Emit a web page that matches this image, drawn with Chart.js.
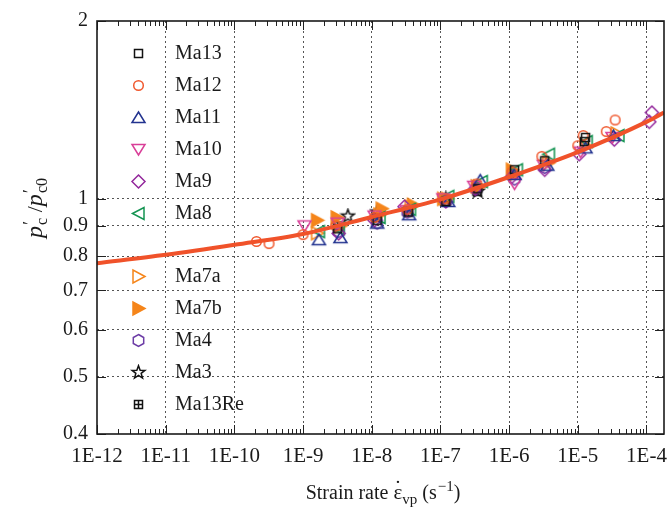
<!DOCTYPE html>
<html>
<head>
<meta charset="utf-8">
<script src="https://cdn.jsdelivr.net/npm/chart.js@4.4.1/dist/chart.umd.min.js"></script>
<style>
  html, body { margin: 0; padding: 0; background: #fff; }
</style>
</head>
<body>
<canvas id="chart" width="670" height="510"></canvas>
<script>
// ------------------------------
// data: strain rate (1/s) and p'c/p'c0 per test
// ------------------------------
const rateMa13 = [3.2e-9, 1.2e-8, 3.4e-8, 1.2e-7, 3.5e-7, 1.2e-6, 3.3e-6, 1.3e-5, 1.25e-5];
const ratioMa13 = [0.89, 0.92, 0.95, 0.99, 1.04, 1.12, 1.16, 1.27, 1.25];

const rateMa12 = [2.1e-10, 3.2e-10, 1.0e-9, 3.0e-9, 1.1e-8, 3.3e-8, 1.2e-7, 3.4e-7, 1.1e-6, 3.0e-6, 1.2e-5, 1.0e-5, 2.6e-5, 3.5e-5];
const ratioMa12 = [0.847, 0.84, 0.87, 0.90, 0.93, 0.96, 1.00, 1.06, 1.11, 1.18, 1.28, 1.23, 1.30, 1.36];

const rateMa11 = [1.7e-9, 3.5e-9, 1.2e-8, 3.5e-8, 1.3e-7, 3.8e-7, 1.2e-6, 3.6e-6, 1.3e-5, 3.3e-5];
const ratioMa11 = [0.853, 0.86, 0.91, 0.94, 0.99, 1.076, 1.10, 1.14, 1.22, 1.28];

const rateMa10 = [1.05e-9, 3.2e-9, 1.1e-8, 3.2e-8, 1.1e-7, 3.1e-7, 1.2e-6, 3.2e-6, 1.1e-5, 3.2e-5];
const ratioMa10 = [0.90, 0.91, 0.935, 0.955, 1.0, 1.05, 1.06, 1.14, 1.20, 1.27];

const rateMa9 = [3.3e-9, 1.1e-8, 3.0e-8, 1.2e-7, 3.2e-7, 1.1e-6, 3.3e-6, 1.05e-5, 3.4e-5, 1.2e-4, 1.1e-4];
const ratioMa9 = [0.874, 0.92, 0.97, 0.99, 1.04, 1.09, 1.12, 1.19, 1.26, 1.40, 1.35];

const rateMa8 = [1.7e-9, 3.3e-9, 1.3e-8, 3.6e-8, 1.3e-7, 4.0e-7, 1.3e-6, 3.8e-6, 1.35e-5, 3.9e-5];
const ratioMa8 = [0.88, 0.89, 0.93, 0.96, 1.01, 1.07, 1.12, 1.19, 1.25, 1.28];

const rateMa7a = [1.6e-9, 3.5e-9, 1.3e-8, 3.7e-8, 1.25e-7, 3.7e-7, 1.2e-6, 3.7e-6, 1.3e-5, 3.7e-5];
const ratioMa7a = [0.875, 0.90, 0.94, 0.97, 1.0, 1.05, 1.10, 1.15, 1.23, 1.29];

const rateMa7b = [1.6e-9, 3.1e-9, 1.4e-8, 4.0e-8, 1.1e-7, 3.4e-7, 1.1e-6];
const ratioMa7b = [0.92, 0.93, 0.962, 0.977, 1.0, 1.05, 1.12];

const rateMa4 = [3.3e-9, 1.2e-8, 3.3e-8, 1.2e-7, 3.3e-7, 1.2e-6, 3.3e-6];
const ratioMa4 = [0.88, 0.91, 0.95, 0.99, 1.04, 1.08, 1.13];

const rateMa3 = [4.5e-9, 1.2e-8, 3.5e-8, 1.2e-7, 3.5e-7];
const ratioMa3 = [0.935, 0.95, 0.96, 1.0, 1.03];

const rateMa13Re = [3.2e-9, 1.15e-8, 3.4e-8, 1.15e-7, 3.4e-7, 1.15e-6];
const ratioMa13Re = [0.90, 0.93, 0.95, 0.99, 1.03, 1.10];

// model curve
const fitRate = [1e-12, 1e-11, 1e-10, 1e-9, 1e-8, 1e-7, 1e-6, 1e-5, 1e-4, 1.8e-4];
const fitRatio = [0.778, 0.804, 0.836, 0.872, 0.932, 0.998, 1.089, 1.20, 1.35, 1.40];

// axis ticks
const xTicks = [1e-12, 1e-11, 1e-10, 1e-9, 1e-8, 1e-7, 1e-6, 1e-5, 1e-4];
const yTicks = [0.4, 0.5, 0.6, 0.7, 0.8, 0.9, 1, 2];

const SERIF = "'Liberation Serif', 'DejaVu Serif', serif";

// ------------------------------
// marker images
// ------------------------------
function makeMarker(kind, color, filled) {
    const s = 17, c = 8.5;
    const cv = document.createElement("canvas");
    cv.width = s; cv.height = s;
    const g = cv.getContext("2d");
    g.strokeStyle = color;
    g.fillStyle = color;
    g.lineWidth = 1.5;
    g.beginPath();
    if (kind === "square") {
        g.rect(c - 4, c - 4, 8, 8);
    } else if (kind === "circle") {
        g.arc(c, c, 4.8, 0, Math.PI * 2);
    } else if (kind === "up") {
        g.moveTo(c, c - 5.5); g.lineTo(c + 6.5, c + 5); g.lineTo(c - 6.5, c + 5); g.closePath();
    } else if (kind === "down") {
        g.moveTo(c, c + 5.5); g.lineTo(c + 6.5, c - 5); g.lineTo(c - 6.5, c - 5); g.closePath();
    } else if (kind === "left") {
        g.moveTo(c - 6, c); g.lineTo(c + 5.5, c - 6); g.lineTo(c + 5.5, c + 6); g.closePath();
    } else if (kind === "right") {
        g.moveTo(c + 6.5, c); g.lineTo(c - 5.5, c - 6.5); g.lineTo(c - 5.5, c + 6.5); g.closePath();
    } else if (kind === "diamond") {
        g.moveTo(c, c - 6.5); g.lineTo(c + 6.5, c); g.lineTo(c, c + 6.5); g.lineTo(c - 6.5, c); g.closePath();
    } else if (kind === "hexagon") {
        for (let k = 0; k < 6; k++) {
            const a = -Math.PI / 2 + k * Math.PI / 3;
            const px = c + 6 * Math.cos(a), py = c + 6 * Math.sin(a);
            if (k === 0) g.moveTo(px, py); else g.lineTo(px, py);
        }
        g.closePath();
    } else if (kind === "star") {
        for (let k = 0; k < 10; k++) {
            const a = -Math.PI / 2 + k * Math.PI / 5;
            const r = k % 2 === 0 ? 6.8 : 2.8;
            const px = c + r * Math.cos(a), py = c + r * Math.sin(a);
            if (k === 0) g.moveTo(px, py); else g.lineTo(px, py);
        }
        g.closePath();
    } else if (kind === "boxplus") {
        g.rect(c - 4, c - 4, 8, 8);
        g.moveTo(c, c - 4); g.lineTo(c, c + 4);
        g.moveTo(c - 4, c); g.lineTo(c + 4, c);
    }
    if (filled) g.fill();
    g.stroke();
    return cv;
}

const series = [
    { label: "Ma13", x: rateMa13, y: ratioMa13, marker: makeMarker("square", "#111") },
    { label: "Ma12", x: rateMa12, y: ratioMa12, marker: makeMarker("circle", "#f0582e") },
    { label: "Ma11", x: rateMa11, y: ratioMa11, marker: makeMarker("up", "#22338f") },
    { label: "Ma10", x: rateMa10, y: ratioMa10, marker: makeMarker("down", "#d93f98") },
    { label: "Ma9", x: rateMa9, y: ratioMa9, marker: makeMarker("diamond", "#93289c") },
    { label: "Ma8", x: rateMa8, y: ratioMa8, marker: makeMarker("left", "#149452") },
    { label: "Ma7a", x: rateMa7a, y: ratioMa7a, marker: makeMarker("right", "#f5851a") },
    { label: "Ma7b", x: rateMa7b, y: ratioMa7b, marker: makeMarker("right", "#f5851a", true) },
    { label: "Ma4", x: rateMa4, y: ratioMa4, marker: makeMarker("hexagon", "#6c3ca6") },
    { label: "Ma3", x: rateMa3, y: ratioMa3, marker: makeMarker("star", "#111") },
    { label: "Ma13Re", x: rateMa13Re, y: ratioMa13Re, marker: makeMarker("boxplus", "#111") }
];

const zip = (xs, ys) => xs.map((v, i) => ({ x: v, y: ys[i] }));

const datasets = [{
    label: "fit",
    data: zip(fitRate, fitRatio),
    showLine: true,
    borderColor: "#f0522a",
    borderWidth: 4,
    pointRadius: 0,
    cubicInterpolationMode: "monotone",
    order: 0
}].concat(series.map(s => ({
    label: s.label,
    data: zip(s.x, s.y),
    showLine: false,
    pointStyle: s.marker,
    pointRadius: 5,
    order: 1
})));

// ------------------------------
// rich text helper (italic / sub / sup)
// ------------------------------
function drawRich(ctx, parts, cx, cy) {
    let total = 0;
    parts.forEach(p => {
        ctx.font = `${p.it ? "italic " : ""}${p.size}px ${SERIF}`;
        p.w = ctx.measureText(p.t).width;
        if (!p.over) total += p.w + (p.dx || 0);
    });
    let x = cx - total / 2;
    let prev = null;
    parts.forEach(p => {
        ctx.font = `${p.it ? "italic " : ""}${p.size}px ${SERIF}`;
        if (p.over && prev) {
            ctx.fillText(p.t, x - prev.w / 2 - p.w / 2 + (p.dx || 0), cy + (p.dy || 0));
            return;
        }
        x += p.dx || 0;
        ctx.fillText(p.t, x, cy + (p.dy || 0));
        x += p.w;
        prev = p;
    });
}

// ------------------------------
// frame, inward ticks, legend, axis titles
// ------------------------------
const decorPlugin = {
    id: "decor",
    afterDraw(chart) {
        const ctx = chart.ctx;
        const a = chart.chartArea;
        const xs = chart.scales.x, ys = chart.scales.y;
        ctx.save();

        // ticks
        ctx.strokeStyle = "#222";
        ctx.lineWidth = 1;
        ctx.beginPath();
        for (let d = -12; d <= -4; d++) {
            for (let m = 1; m <= 9; m++) {
                const v = m * Math.pow(10, d);
                if (v < xs.min || v > xs.max) continue;
                const px = Math.round(xs.getPixelForValue(v)) + 0.5;
                const len = m === 1 ? 9 : 5;
                ctx.moveTo(px, a.bottom); ctx.lineTo(px, a.bottom - len);
                ctx.moveTo(px, a.top); ctx.lineTo(px, a.top + len);
            }
        }
        yTicks.forEach(v => {
            const py = Math.round(ys.getPixelForValue(v)) + 0.5;
            ctx.moveTo(a.left, py); ctx.lineTo(a.left + 9, py);
            ctx.moveTo(a.right, py); ctx.lineTo(a.right - 9, py);
        });
        ctx.stroke();

        // frame
        ctx.lineWidth = 1.6;
        ctx.strokeStyle = "#1a1a1a";
        ctx.strokeRect(a.left, a.top, a.right - a.left, a.bottom - a.top);

        // legend (blank slot after Ma8)
        ctx.fillStyle = "#1a1a1a";
        ctx.textBaseline = "middle";
        ctx.textAlign = "left";
        ctx.font = `20px ${SERIF}`;
        series.forEach((s, i) => {
            const slot = i < 6 ? i : i + 1;
            const ly = Math.round(a.top + 32 + slot * 31.9);
            ctx.drawImage(s.marker, Math.round(a.left + 41) - 8, ly - 8);
            ctx.fillText(s.label, a.left + 78, ly + 1);
        });

        // x title
        ctx.textBaseline = "alphabetic";
        drawRich(ctx, [
            { t: "Strain rate ", size: 20 },
            { t: "ε", size: 21 },
            { t: "˙", size: 22, over: true, dy: -4 },
            { t: "vp", size: 15, dy: 5 },
            { t: " (s", size: 20 },
            { t: "−1", size: 15, dy: -8, dx: 1 },
            { t: ")", size: 20 }
        ], 383, 499);

        // y title
        ctx.translate(42, 208);
        ctx.rotate(-Math.PI / 2);
        drawRich(ctx, [
            { t: "p", size: 24, it: true },
            { t: "′", size: 19, dy: -6, dx: 1 },
            { t: "c", size: 16, dy: 5, dx: -4 },
            { t: " /", size: 22 },
            { t: "p", size: 24, it: true },
            { t: "′", size: 19, dy: -6, dx: 1 },
            { t: "c0", size: 16, dy: 5, dx: -4 }
        ], 0, 0);

        ctx.restore();
    }
};

const gridColor = (edgeVals) => c => {
    const v = c.tick && c.tick.value;
    return edgeVals.includes(v) ? "rgba(0,0,0,0)" : "#555";
};

new Chart(document.getElementById("chart"), {
    type: "scatter",
    data: { datasets },
    options: {
        responsive: false,
        animation: false,
        events: [],
        layout: { padding: { left: 0, top: 18, right: 3, bottom: 0 } },
        plugins: { legend: { display: false }, tooltip: { enabled: false } },
        scales: {
            x: {
                type: "logarithmic",
                min: 1e-12,
                max: 1.8e-4,
                afterBuildTicks: s => { s.ticks = xTicks.map(v => ({ value: v })); },
                afterFit: s => { s.height = 76; s.paddingLeft = 0; s.paddingRight = 0; },
                grid: { color: gridColor([1e-12]), lineWidth: 1, drawTicks: false },
                border: { display: false, dash: [2, 3] },
                ticks: {
                    padding: 10,
                    autoSkip: false,
                    maxRotation: 0,
                    color: "#1a1a1a",
                    font: { family: SERIF, size: 21 },
                    callback: v => "1E" + Math.round(Math.log10(v))
                }
            },
            y: {
                type: "logarithmic",
                min: 0.4,
                max: 2,
                afterBuildTicks: s => { s.ticks = yTicks.map(v => ({ value: v })); },
                afterFit: s => { s.width = 97; },
                grid: { color: gridColor([0.4, 2]), lineWidth: 1, drawTicks: false },
                border: { display: false, dash: [2, 3] },
                ticks: {
                    padding: 9,
                    autoSkip: false,
                    color: "#1a1a1a",
                    font: { family: SERIF, size: 20 },
                    callback: v => String(v)
                }
            }
        }
    },
    plugins: [decorPlugin]
});
</script>
</body>
</html>
